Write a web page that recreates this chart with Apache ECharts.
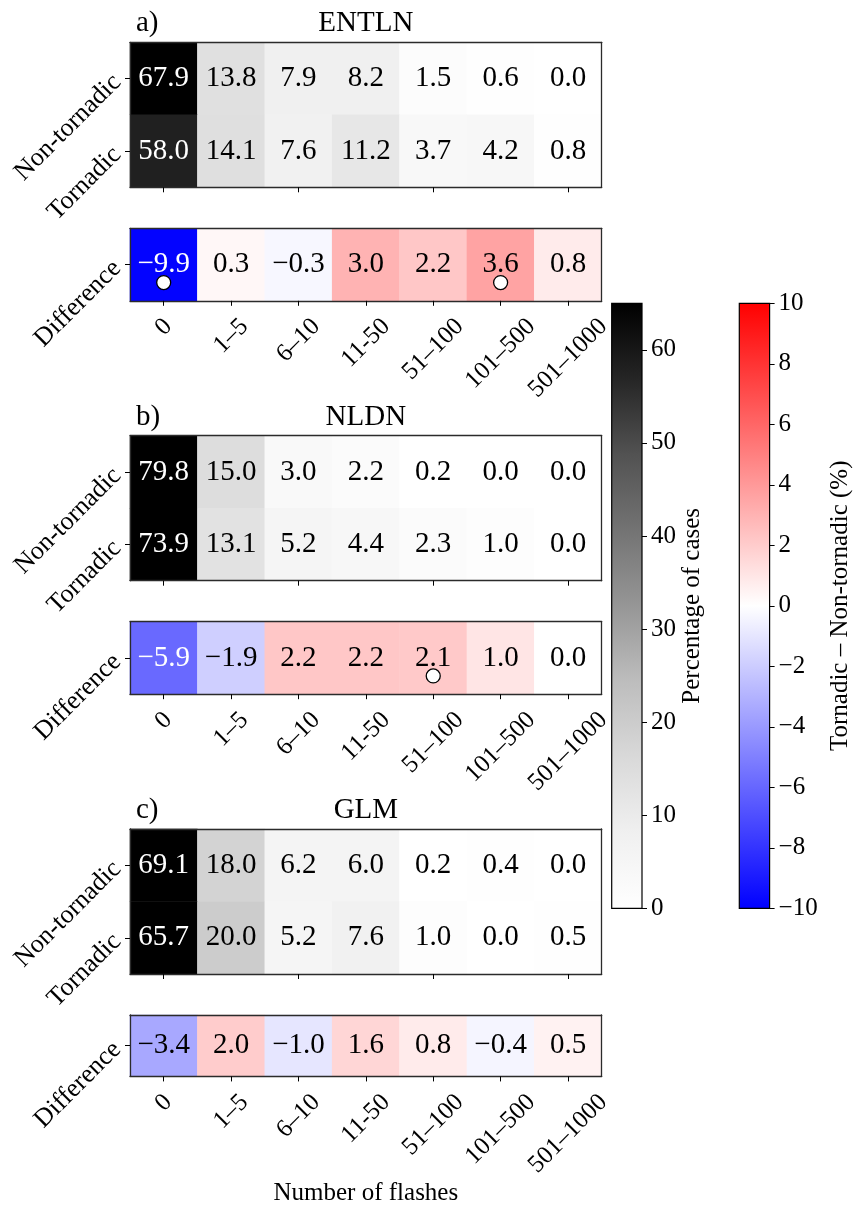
<!DOCTYPE html>
<html>
<head>
<meta charset="utf-8">
<script src="https://cdn.jsdelivr.net/npm/echarts@6/dist/echarts.min.js"></script>
<style>
  html, body { margin: 0; padding: 0; background: #ffffff; }
  #chart { width: 858px; height: 1207px; }
</style>
</head>
<body>
<div id="chart"></div>
<script>
// ---- data -------------------------------------------------------------
const flashBins = ['0', '1\u20135', '6\u201310', '11-50', '51\u2013100', '101\u2013500', '501\u20131000'];
const rowNames = ['Non-tornadic', 'Tornadic'];
const diffRowName = ['Difference'];
const networks = ['ENTLN', 'NLDN', 'GLM'];
const panelTags = ['a)', 'b)', 'c)'];

// percentage of cases per flash-count bin
const entlnNon = [67.9, 13.8, 7.9, 8.2, 1.5, 0.6, 0.0];
const entlnTor = [58.0, 14.1, 7.6, 11.2, 3.7, 4.2, 0.8];
const entlnDiff = [-9.9, 0.3, -0.3, 3.0, 2.2, 3.6, 0.8];

const nldnNon = [79.8, 15.0, 3.0, 2.2, 0.2, 0.0, 0.0];
const nldnTor = [73.9, 13.1, 5.2, 4.4, 2.3, 1.0, 0.0];
const nldnDiff = [-5.9, -1.9, 2.2, 2.2, 2.1, 1.0, 0.0];

const glmNon = [69.1, 18.0, 6.2, 6.0, 0.2, 0.4, 0.0];
const glmTor = [65.7, 20.0, 5.2, 7.6, 1.0, 0.0, 0.5];
const glmDiff = [-3.4, 2.0, -1.0, 1.6, 0.8, -0.4, 0.5];

// bins where the difference is significant (marked with a circle)
const entlnSig = ['0', '101\u2013500'];
const nldnSig = ['51\u2013100'];
const glmSig = [];

// colour scales
const greyMax = 65;
const greyTicks = [0, 10, 20, 30, 40, 50, 60];
const diffLim = 10;
const diffTicks = [-10, -8, -6, -4, -2, 0, 2, 4, 6, 8, 10];
const greysRamp = ['#ffffff', '#f0f0f0', '#d9d9d9', '#bdbdbd', '#969696', '#737373', '#525252', '#252525', '#000000'];
const bwrRamp = ['#0000ff', '#ffffff', '#ff0000'];

const panels = [
  { name: networks[0], tag: panelTags[0], rows: [entlnNon, entlnTor], diff: entlnDiff, sig: entlnSig },
  { name: networks[1], tag: panelTags[1], rows: [nldnNon, nldnTor], diff: nldnDiff, sig: nldnSig },
  { name: networks[2], tag: panelTags[2], rows: [glmNon, glmTor], diff: glmDiff, sig: glmSig }
];

// ---- layout -----------------------------------------------------------
const FONT = '"Liberation Serif", "Times New Roman", serif';
const plotLeft = 130;
const plotWidth = 471.7;
const mainH = 145;
const diffH = 72.5;
const diffOffset = 186;
const panelTops = [42.3, 435.7, 829];
const frameColor = '#2b2b2b';

const fmt = v => v.toFixed(1).replace('-', '\u2212');
const tickFmt = v => String(v).replace('-', '\u2212');

// tick labels on the flash axis are centred under their ticks after rotation:
// pad each label by half its own width so the rotated box drops straight down
const meas = document.createElement('canvas').getContext('2d');
meas.font = '25px ' + FONT;
const binRich = {};
flashBins.forEach((b, i) => {
  const half = meas.measureText(b).width / 2;
  binRich['b' + i] = { padding: [half, half, 0, 0], fontSize: 25, fontFamily: FONT, color: '#000', lineHeight: 25 };
});

const grids = [];
const xAxes = [];
const yAxes = [];
const series = [];
const greySeries = [];
const diffSeries = [];
const graphics = [];

function frameLine() {
  return { show: true, onZero: false, lineStyle: { color: frameColor, width: 1.3 } };
}

function addCell(top, height, rows, showBinLabels) {
  const gi = grids.length;
  grids.push({ left: plotLeft, top: top, width: plotWidth, height: height, show: false });
  const xi = xAxes.length;
  xAxes.push({
    gridIndex: gi, type: 'category', data: flashBins, position: 'bottom', z: 5,
    axisLine: frameLine(),
    axisTick: { show: true, alignWithLabel: true, length: 5, lineStyle: { color: '#000', width: 1 } },
    axisLabel: showBinLabels ? {
      show: true, interval: 0, rotate: 45, align: 'center', verticalAlign: 'middle', margin: 22,
      fontSize: 25, fontFamily: FONT, color: '#000',
      formatter: (v, i) => '{b' + i + '|' + v + '}',
      rich: binRich
    } : { show: false },
    splitLine: { show: false }
  });
  xAxes.push({
    gridIndex: gi, type: 'category', data: flashBins, position: 'top', z: 5,
    axisLine: frameLine(), axisTick: { show: false }, axisLabel: { show: false }, splitLine: { show: false }
  });
  const yi = yAxes.length;
  yAxes.push({
    gridIndex: gi, type: 'category', data: rows, inverse: true, position: 'left', z: 5,
    axisLine: frameLine(),
    axisTick: { show: true, alignWithLabel: true, length: 5, lineStyle: { color: '#000', width: 1 } },
    axisLabel: { show: true, rotate: 45, margin: 13, fontSize: 26, fontFamily: FONT, color: '#000' },
    splitLine: { show: false }
  });
  yAxes.push({
    gridIndex: gi, type: 'category', data: rows, inverse: true, position: 'right', z: 5,
    axisLine: frameLine(), axisTick: { show: false }, axisLabel: { show: false }, splitLine: { show: false }
  });
  return { xi, yi };
}

const cellLabel = { show: true, fontSize: 29, fontFamily: FONT };
let lastBinAxis = -1;

panels.forEach((p, k) => {
  const top = panelTops[k];

  // shares for non-tornadic / tornadic cases
  const m = addCell(top, mainH, rowNames, false);
  const mainData = [];
  p.rows.forEach((vals, r) => vals.forEach((v, c) => {
    mainData.push({ value: [c, r, v], label: { color: v > greyMax / 2 ? '#ffffff' : '#000000' } });
  }));
  greySeries.push(series.length);
  series.push({
    type: 'heatmap', xAxisIndex: m.xi, yAxisIndex: m.yi, data: mainData,
    label: Object.assign({ formatter: d => fmt(d.value[2]) }, cellLabel),
    emphasis: { disabled: true }
  });

  // tornadic minus non-tornadic
  const d = addCell(top + diffOffset, diffH, diffRowName, true);
  lastBinAxis = d.xi;
  const diffData = p.diff.map((v, c) => ({ value: [c, 0, v], label: { color: Math.abs(v) > diffLim / 2 ? '#ffffff' : '#000000' } }));
  diffSeries.push(series.length);
  series.push({
    type: 'heatmap', xAxisIndex: d.xi, yAxisIndex: d.yi, data: diffData,
    label: Object.assign({ formatter: dd => fmt(dd.value[2]) }, cellLabel),
    emphasis: { disabled: true }
  });
  series.push({
    type: 'scatter', xAxisIndex: d.xi, yAxisIndex: d.yi, z: 4,
    data: p.sig.map(b => [b, diffRowName[0]]),
    symbol: 'circle', symbolSize: 14, symbolOffset: [0, 18],
    itemStyle: { color: '#ffffff', borderColor: '#000000', borderWidth: 1.3, opacity: 1 },
    emphasis: { disabled: true }, silent: true
  });

  // panel letter and network name
  graphics.push({
    type: 'text', x: 136, y: top - 18.5,
    style: { text: p.tag, font: '29px ' + FONT, fill: '#000', align: 'left', verticalAlign: 'middle' }
  });
  graphics.push({
    type: 'text', x: plotLeft + plotWidth / 2, y: top - 18.5,
    style: { text: p.name, font: '29px ' + FONT, fill: '#000', align: 'center', verticalAlign: 'middle' }
  });
});

// x-axis title under the last panel
Object.assign(xAxes[lastBinAxis], {
  name: 'Number of flashes', nameLocation: 'middle', nameGap: 92,
  nameTextStyle: { fontSize: 25, fontFamily: FONT, color: '#000' }
});

// ---- colour bars ------------------------------------------------------
function rampGradient(ramp) {
  return new echarts.graphic.LinearGradient(0, 1, 0, 0,
    ramp.map((c, i) => ({ offset: i / (ramp.length - 1), color: c })));
}

function addColorbar(left, min, max, ticks, ramp, title, gap) {
  const gi = grids.length;
  grids.push({
    left: left, top: 303.3, width: 30.3, height: 605, show: true,
    backgroundColor: rampGradient(ramp), borderColor: '#000', borderWidth: 1.2
  });
  xAxes.push({ gridIndex: gi, type: 'category', data: [''], show: false });
  yAxes.push({
    gridIndex: gi, type: 'value', position: 'right', min: min, max: max,
    axisLine: { show: false }, splitLine: { show: false },
    axisTick: { show: true, length: 5, customValues: ticks, lineStyle: { color: '#000', width: 1 } },
    axisLabel: { show: true, customValues: ticks, margin: 9, fontSize: 25, fontFamily: FONT, color: '#000', formatter: tickFmt },
    name: title, nameLocation: 'middle', nameRotate: 90, nameGap: gap,
    nameTextStyle: { fontSize: 25, fontFamily: FONT, color: '#000' }
  });
}

addColorbar(611.7, 0, greyMax, greyTicks, greysRamp, 'Percentage of cases', 36);
addColorbar(739.3, -diffLim, diffLim, diffTicks, bwrRamp, 'Tornadic \u2013 Non-tornadic (%)', 58);

const option = {
  animation: false,
  backgroundColor: '#ffffff',
  grid: grids,
  xAxis: xAxes,
  yAxis: yAxes,
  visualMap: [
    { type: 'continuous', show: false, min: 0, max: greyMax, dimension: 2, seriesIndex: greySeries, inRange: { color: greysRamp } },
    { type: 'continuous', show: false, min: -diffLim, max: diffLim, dimension: 2, seriesIndex: diffSeries, inRange: { color: bwrRamp } }
  ],
  series: series,
  graphic: graphics
};

const chart = echarts.init(document.getElementById('chart'), null, { renderer: 'canvas' });
chart.setOption(option);
</script>
</body>
</html>
